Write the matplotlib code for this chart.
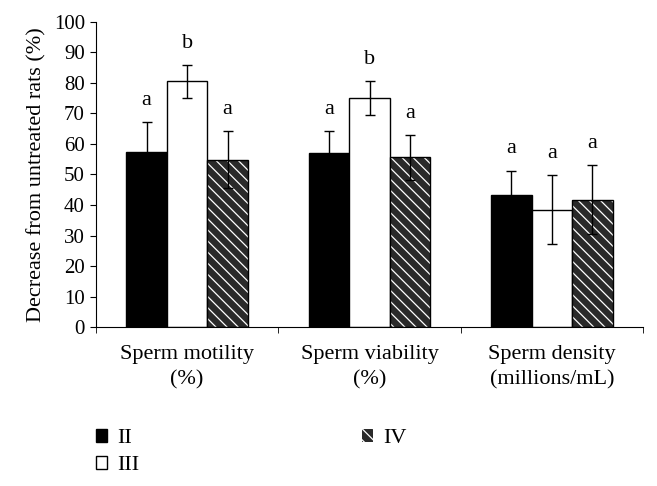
import numpy as np
import matplotlib.pyplot as plt
from matplotlib.patches import Patch

plt.rcParams['font.family'] = ['Liberation Serif', 'DejaVu Serif']
plt.rcParams['hatch.linewidth'] = 0.9

# data
groups = ['Sperm motility\n(%)', 'Sperm viability\n(%)', 'Sperm density\n(millions/mL)']
series = ['II', 'III', 'IV']
vals_II = [57.2, 57.1, 43.3]
vals_III = [80.6, 75.1, 38.5]
vals_IV = [54.8, 55.6, 41.8]
err_II = [10.0, 7.0, 8.0]
err_III = [5.4, 5.5, 11.3]
err_IV = [9.3, 7.4, 11.2]
letters_II = ['a', 'a', 'a']
letters_III = ['b', 'b', 'a']
letters_IV = ['a', 'a', 'a']

fig = plt.figure(figsize=(6.57, 4.86), dpi=100)
ax = fig.add_axes([0.146, 0.327, 0.833, 0.628])

x = np.arange(len(groups))
w = 0.222

# II: solid black
ax.bar(x - w, vals_II, w, color='black', edgecolor='black', linewidth=1, zorder=2)
# III: white
ax.bar(x, vals_III, w, color='white', edgecolor='black', linewidth=1, zorder=2)
# IV: dark with white diagonal hatch, black outline
ax.bar(x + w, vals_IV, w, color='#2a2a2a', edgecolor='white', hatch='\\\\\\', linewidth=0, zorder=2)
ax.bar(x + w, vals_IV, w, color='none', edgecolor='black', linewidth=1, zorder=3)

for off, v, e, lab in [(-w, vals_II, err_II, letters_II),
                       (0, vals_III, err_III, letters_III),
                       (w, vals_IV, err_IV, letters_IV)]:
    ax.errorbar(x + off, v, yerr=e, fmt='none', ecolor='black', elinewidth=1,
                capsize=3.5, capthick=1, zorder=4)
    for xi, vi, ei, li in zip(x + off, v, e, lab):
        ax.text(xi, vi + ei + 5.6, li, ha='center', va='baseline', fontsize=16)

ax.set_xlim(-0.5, 2.5)
ax.set_ylim(0, 100)
ax.set_yticks(np.arange(0, 101, 10))
ax.set_xticks(x)
ax.set_xticklabels(groups, fontsize=16, linespacing=1.45)
ax.set_xticks([-0.5, 0.5, 1.5, 2.5], minor=True)
ax.tick_params(axis='x', which='major', length=0, pad=13)
ax.tick_params(axis='x', which='minor', length=4, direction='out')
ax.tick_params(axis='y', labelsize=15, length=4, direction='out', pad=4)
ax.spines['top'].set_visible(False)
ax.spines['right'].set_visible(False)
ax.set_ylabel('Decrease from untreated rats (%)', fontsize=16, labelpad=5)

handles = [Patch(facecolor='black', edgecolor='black'),
           Patch(facecolor='white', edgecolor='black'),
           Patch(facecolor='#2a2a2a', edgecolor='white', hatch='\\\\\\', linewidth=0)]
fig.legend(handles, series, ncol=2, loc='upper left', bbox_to_anchor=(0.116, 0.158),
           frameon=False, fontsize=16, handlelength=0.5, handleheight=0.5,
           handletextpad=0.45, columnspacing=10.0, labelspacing=0.35)

fig.savefig('out.png', dpi=100)
